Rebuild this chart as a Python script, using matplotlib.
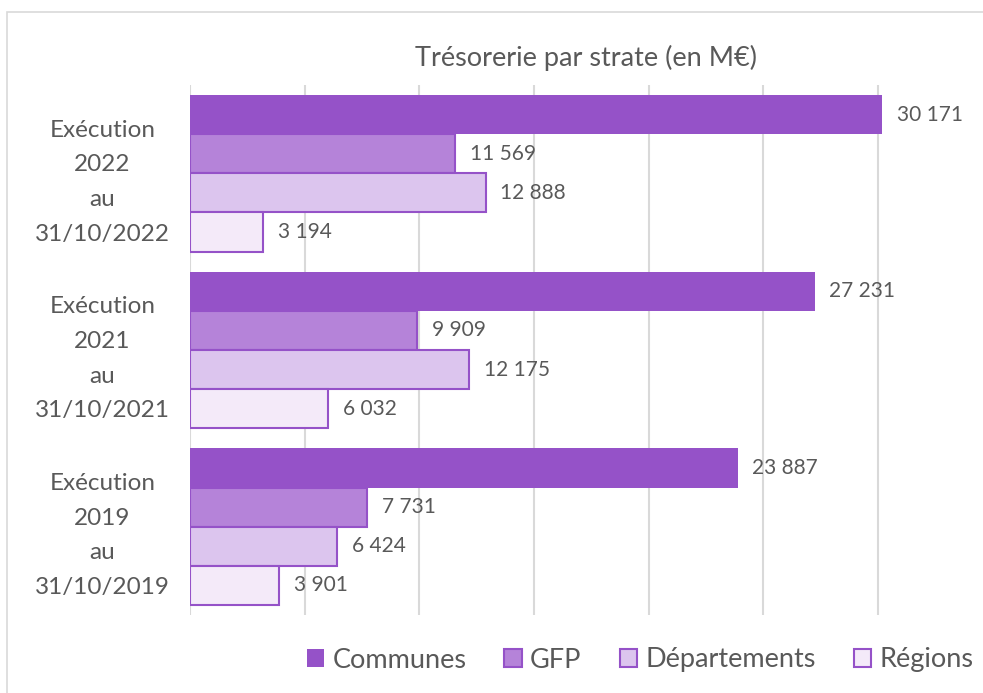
import matplotlib
matplotlib.use("Agg")
import matplotlib.pyplot as plt
from matplotlib.patches import Rectangle, Patch
import numpy as np

plt.rcParams['font.family'] = ['Lato', 'DejaVu Sans']

categories = ["Exécution\n2022\nau\n31/10/2022",
              "Exécution\n2021\nau\n31/10/2021",
              "Exécution\n2019\nau\n31/10/2019"]
series_names = ["Communes", "GFP", "Départements", "Régions"]
communes = [30171, 27231, 23887]
gfp = [11569, 9909, 7731]
departements = [12888, 12175, 6424]
regions = [3194, 6032, 3901]
values = [communes, gfp, departements, regions]
labels_fmt = lambda v: f"{v:,}".replace(",", " ")

fills = ["#9552C8", "#B583D9", "#DCC5EE", "#F4EAF9"]
edge = "#9552C8"
txt = "#595959"

W, H = 983, 693
fig = plt.figure(figsize=(W/100, H/100), dpi=100)
# chart frame
fig.patches.append(Rectangle((7/W, -0.1), 1.2, 1 - 12/H + 0.1, transform=fig.transFigure,
                             fill=False, edgecolor="#D9D9D9", linewidth=1.2))

ax = fig.add_axes([190/W, 1 - 615/H, (W - 190)/W, (615 - 85)/H])
n = len(series_names)
band = 0.886
h = band / n
ypos = np.arange(len(categories))
for i, (name, vals) in enumerate(zip(series_names, values)):
    y = ypos - band/2 + h*(i + 0.5)
    ax.barh(y, vals, height=h, color=fills[i],
            edgecolor=(fills[i] if i == 0 else edge), linewidth=(0 if i == 0 else 1.5),
            label=name, zorder=3)
    for yy, v in zip(y, vals):
        ax.annotate(labels_fmt(v), (v, yy), xytext=(10.5, 0), textcoords="offset points",
                    va="center", ha="left", fontsize=15, color=txt)

ax.set_ylim(len(categories) - 0.5, -0.5)
ax.set_xlim(0, (W - 190) / ((882 - 190) / 30171))
ax.set_xticks(np.arange(0, 30001, 5000))
ax.set_xticklabels([])
ax.tick_params(axis="x", length=0)
ax.grid(axis="x", color="#D9D9D9", linewidth=1.5, zorder=0)
ax.set_yticks(ypos)
ax.set_yticklabels(categories, fontsize=17.5, color=txt, linespacing=1.8, ha="center")
ax.tick_params(axis="y", length=0, pad=63)
for s in ax.spines.values():
    s.set_visible(False)

fig.text(586/W, 1 - 58/H, "Trésorerie par strate (en M€)", ha="center", va="center",
         fontsize=19.5, color=txt)

handles = [Patch(facecolor=fills[i], edgecolor=(fills[i] if i == 0 else edge),
                 linewidth=(0 if i == 0 else 1.5)) for i in range(n)]
fig.legend(handles, series_names, loc="center", bbox_to_anchor=(640/W, 1 - 660/H),
           ncol=4, frameon=False, fontsize=19.5, labelcolor=txt, handlelength=0.65,
           handleheight=0.65, handletextpad=0.3, columnspacing=1.4)

fig.savefig("out.png", dpi=100)
